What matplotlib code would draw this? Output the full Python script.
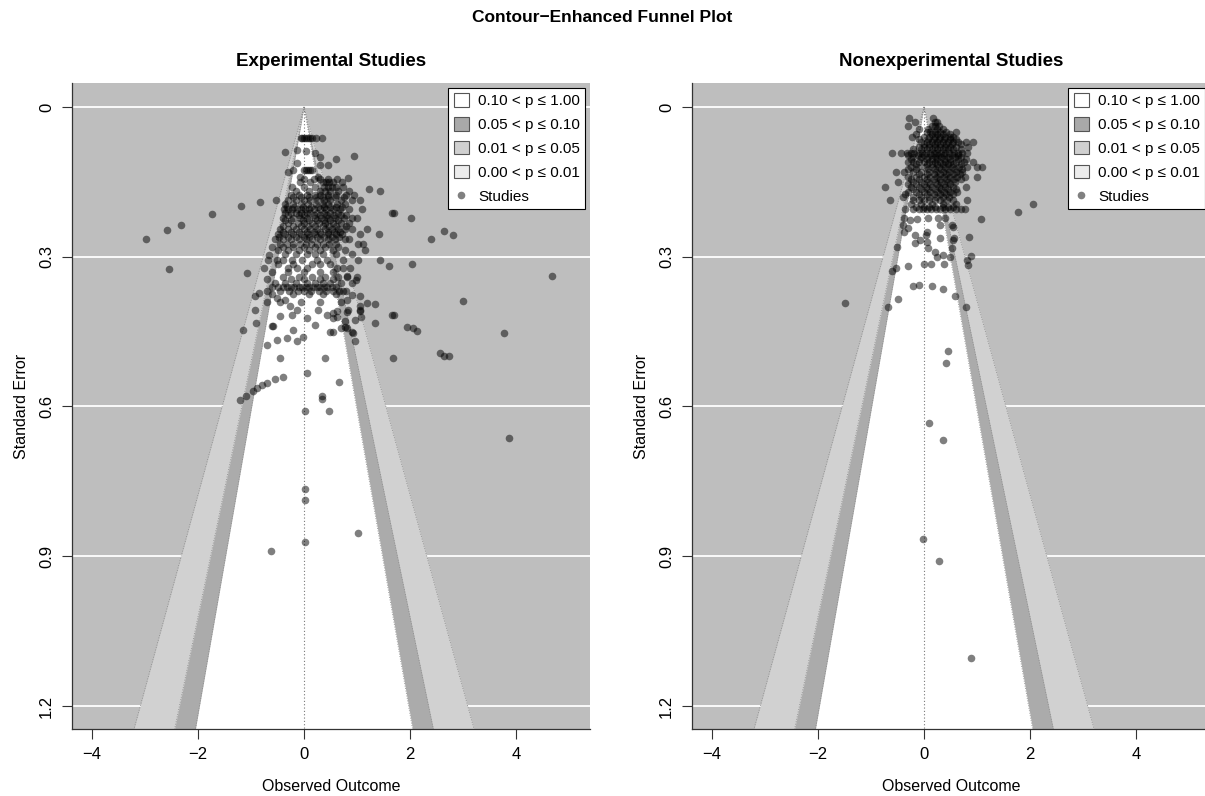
import numpy as np
import matplotlib
matplotlib.use("Agg")
import matplotlib.pyplot as plt
from matplotlib.patches import Patch
from matplotlib.lines import Line2D

plt.rcParams["font.family"] = ["Liberation Sans", "DejaVu Sans"]

# ---- data (x = observed outcome, se = standard error) ----
# dense horizontal bands: (se, [x values])
exp_rows = [
    (0.062, [-0.06, -0.03, 0.0, 0.03, 0.07, 0.11, 0.15, 0.22, 0.34]),
    (0.126, [-0.2, 0.0, 0.04, 0.08, 0.12, 0.16]),
    (0.145, [0.0, 0.18, 0.3, 0.46, 0.62]),
    (0.15, [-0.08, 0.11, 0.36, 0.42, 0.48, 0.55, 0.72]),
    (0.16, [-0.23, 0.0, 0.2, 0.38, 0.45, 0.52, 0.6, 0.74]),
    (0.168, [-0.15, 0.1, 0.3, 0.4, 0.5, 0.65, 0.85, 1.43]),
    (0.176, [-0.25, -0.1, 0.05, 0.2, 0.3, 0.45, 0.6, 0.8, 0.95]),
    (0.181, [-0.2, -0.05, 0.1, 0.22, 0.35, 0.45, 0.58, 0.75]),
    (0.186, [-0.3, -0.15, 0.0, 0.12, 0.25, 0.38, 0.5, 0.7, 0.9, 1.05]),
    (0.195, [-0.35, -0.2, -0.05, 0.08, 0.22, 0.35, 0.45, 0.62, 0.78]),
    (0.2, [-0.33, -0.18, -0.02, 0.14, 0.26, 0.38, 0.5, 0.6, 0.72]),
    (0.205, [-0.38, -0.3, -0.22, -0.14, -0.06, 0.02, 0.1, 0.18, 0.3, 0.42, 0.55, 0.68, 0.85, 1.1]),
    (0.212, [-0.35, -0.25, -0.15, -0.05, 0.05, 0.12, 0.25, 0.38, 0.5, 0.64, 1.66, 1.7]),
    (0.217, [-0.3, -0.1, 0.0, 0.18, 0.3, 0.44, 0.56, 0.7, 0.8]),
    (0.222, [-0.4, -0.2, -0.08, 0.06, 0.2, 0.32, 0.45, 0.58, 0.75, 0.9, 1.0, 2.02]),
    (0.227, [-0.35, -0.25, -0.02, 0.1, 0.25, 0.38, 0.5, 0.64]),
    (0.232, [-0.3, -0.12, 0.0, 0.15, 0.28, 0.4, 0.55, 0.7, 0.85]),
    (0.238, [-0.4, -0.2, -0.05, 0.08, 0.2, 0.35, 0.48, 0.6, 0.8]),
    (0.245, [-0.45, -0.3, -0.15, 0.0, 0.12, 0.25, 0.4, 0.52, 0.65, 0.77, 0.9, 1.19]),
    (0.25, [-0.4, -0.25, -0.1, 0.05, 0.18, 0.3, 0.45, 0.56, 0.68]),
    (0.255, [-0.5, -0.35, -0.2, -0.05, 0.08, 0.2, 0.33, 0.46, 0.6, 0.72, 1.06, 1.42]),
    (0.26, [-0.48, -0.3, -0.15, 0.0, 0.1, 0.24, 0.38, 0.52, 0.66]),
    (0.265, [-0.55, -0.4, -0.25, -0.1, 0.03, 0.15, 0.3, 0.45, 0.58, 0.77, 0.85]),
    (0.274, [-0.45, -0.32, -0.2, -0.08, 0.04, 0.14, 0.25, 0.35, 0.48, 0.6, 1.02, 1.11]),
    (0.28, [-0.6, -0.4, -0.2, 0.0, 0.2, 0.4, 0.65]),
    (0.286, [-0.5, -0.3, -0.1, 0.1, 0.3, 0.55, 0.77, 1.15]),
    (0.295, [-0.35, -0.15, 0.05, 0.2, 0.35, 0.6, 0.9]),
    (0.306, [-0.68, -0.51, -0.4, -0.23, -0.04, 0.24, 0.43, 0.74, 1.02, 1.43]),
    (0.315, [-0.5, -0.2, 0.15, 0.3, 0.5]),
    (0.322, [-0.75, -0.3, -0.13, 0.05, 0.62, 0.74, 0.87]),
    (0.33, [-0.6, -0.3, 0.0, 0.3, 0.55]),
    (0.34, [-0.4, -0.1, 0.15, 0.4, 0.65, 0.81, 1.0]),
    (0.345, [-0.7, -0.25, 0.0, 0.3, 0.55]),
    (0.352, [-0.55, -0.35, -0.15, 0.05, 0.2, 0.35, 0.5, 0.7, 0.9]),
    (0.36, [-0.6, -0.5, -0.4, -0.32, -0.25, -0.18, -0.1, -0.03, 0.04, 0.1,
            0.17, 0.24, 0.3, 0.37, 0.44, 0.52, 0.6]),
    (0.368, [-0.7, -0.45, -0.28, -0.12, 0.0, 0.14, 0.28, 0.42, 0.55, 0.66, 0.74, 0.8]),
    (0.375, [-0.6, -0.2, 0.1, 0.35, 0.6]),
    (0.39, [-0.7, -0.45, -0.05, 0.3, 0.7]),
]

# scattered experimental studies: (x, se)
exp_pts = [
    (-0.36, 0.09), (-0.13, 0.086), (0.04, 0.088), (0.21, 0.092), (0.3, 0.1),
    (0.6, 0.104), (0.94, 0.098), (0.45, 0.116), (0.3, 0.116), (-0.13, 0.112),
    (-0.3, 0.13), (0.26, 0.14), (-0.08, 0.14), (0.83, 0.142), (1.23, 0.164),
    (-2.98, 0.264), (-2.58, 0.246), (-2.32, 0.236), (-1.74, 0.214), (-1.19, 0.198),
    (-0.83, 0.19), (-0.53, 0.186), (-2.55, 0.324), (-1.08, 0.332), (-0.66, 0.296),
    (2.4, 0.264), (2.64, 0.248), (2.81, 0.256), (1.6, 0.318), (2.04, 0.314),
    (0.98, 0.346), (3.0, 0.388), (4.68, 0.338), (3.77, 0.452), (3.87, 0.664),
    (1.66, 0.416), (1.7, 0.416), (1.34, 0.432), (1.94, 0.44), (2.06, 0.442),
    (2.13, 0.448), (1.68, 0.502), (2.57, 0.492), (2.64, 0.498), (2.74, 0.498),
    (0.81, 0.338), (0.9, 0.376), (0.81, 0.386), (1.06, 0.378), (1.19, 0.392),
    (1.34, 0.394), (1.06, 0.398), (0.83, 0.406), (1.06, 0.408), (0.96, 0.426),
    (1.08, 0.42), (0.92, 0.452), (0.96, 0.468), (0.9, 0.45), (0.49, 0.45),
    (0.55, 0.45), (0.7, 0.442), (0.77, 0.44), (0.77, 0.428), (0.55, 0.412),
    (0.62, 0.42), (0.81, 0.41), (1.06, 0.406),
    (-0.92, 0.378), (-0.85, 0.372), (-0.51, 0.382), (-0.36, 0.386), (-0.26, 0.398),
    (-0.13, 0.406), (-0.23, 0.416), (0.05, 0.422), (-0.45, 0.418), (-0.6, 0.438),
    (-0.92, 0.406), (-0.9, 0.432), (-1.15, 0.446), (0.26, 0.406), (0.43, 0.416),
    (0.55, 0.422), (0.62, 0.408), (0.81, 0.442), (0.21, 0.436), (-0.21, 0.446),
    (-0.32, 0.462), (-0.51, 0.466), (-0.58, 0.438), (-0.7, 0.476), (-0.13, 0.468),
    (-0.02, 0.46), (-0.45, 0.502), (0.4, 0.502), (0.06, 0.532), (0.66, 0.55),
    (-0.4, 0.54), (-0.55, 0.544), (-0.7, 0.552), (-0.79, 0.556), (-0.89, 0.562),
    (-0.96, 0.568), (-1.09, 0.578), (-1.21, 0.586), (0.34, 0.578), (0.34, 0.584),
    (0.47, 0.61), (0.02, 0.61), (0.02, 0.766), (0.02, 0.788), (0.02, 0.872),
    (1.02, 0.854), (-0.62, 0.89),
]

non_rows = [
    (0.022, [-0.28, 0.17]),
    (0.03, [-0.17, 0.2, 0.24]),
    (0.038, [-0.3, 0.15, 0.21, 0.28]),
    (0.045, [-0.1, 0.08, 0.25, 0.35]),
    (0.05, [0.05, 0.11, 0.2, 0.3, 0.42, 0.6]),
    (0.055, [-0.15, 0.15, 0.25, 0.35, 0.5]),
    (0.06, [-0.23, 0.0, 0.1, 0.2, 0.3, 0.4, 0.49, 0.55]),
    (0.065, [-0.1, 0.08, 0.18, 0.28, 0.38, 0.5, 0.6]),
    (0.07, [-0.05, 0.05, 0.15, 0.25, 0.35, 0.45, 0.55, 0.64, 0.79, 0.92]),
    (0.075, [0.0, 0.1, 0.2, 0.3, 0.42, 0.52, 0.7]),
    (0.08, [-0.1, 0.0, 0.1, 0.2, 0.3, 0.4, 0.5, 0.6, 0.83]),
    (0.085, [-0.2, -0.05, 0.05, 0.15, 0.25, 0.35, 0.45, 0.55, 0.7]),
    (0.092, [-0.6, -0.43, -0.32, -0.25, -0.18, -0.1, -0.03, 0.04, 0.11, 0.18,
             0.25, 0.32, 0.4, 0.48, 0.56, 0.64, 0.72, 0.81]),
    (0.097, [-0.3, -0.12, 0.0, 0.14, 0.27, 0.38, 0.52, 0.64]),
    (0.1, [-0.2, -0.05, 0.08, 0.2, 0.33, 0.45, 0.58, 0.7]),
    (0.105, [-0.25, -0.08, 0.05, 0.15, 0.25, 0.38, 0.5, 0.65, 0.8]),
    (0.11, [-0.3, -0.2, -0.1, 0.0, 0.1, 0.2, 0.3, 0.4, 0.5, 0.6, 0.75, 0.92]),
    (0.115, [-0.15, 0.05, 0.15, 0.25, 0.35, 0.45, 0.55, 0.7]),
    (0.12, [-0.25, -0.12, 0.02, 0.15, 0.28, 0.4, 0.52, 0.66, 0.81, 1.0, 1.09]),
    (0.125, [-0.3, -0.15, 0.08, 0.2, 0.33, 0.45, 0.58, 0.72]),
    (0.13, [-0.53, -0.38, -0.2, -0.05, 0.1, 0.22, 0.35, 0.48, 0.6, 0.72]),
    (0.135, [-0.1, 0.05, 0.18, 0.3, 0.42, 0.55, 0.68]),
    (0.14, [-0.3, -0.15, 0.0, 0.12, 0.25, 0.38, 0.5, 0.63, 0.78, 1.0]),
    (0.145, [-0.25, -0.1, 0.05, 0.18, 0.3, 0.43, 0.56, 0.7]),
    (0.15, [-0.49, -0.2, -0.05, 0.08, 0.2, 0.33, 0.45, 0.58]),
    (0.155, [-0.3, -0.15, 0.0, 0.12, 0.25, 0.38, 0.5]),
    (0.16, [-0.74, -0.25, -0.1, 0.03, 0.15, 0.28, 0.4, 0.55, 0.79]),
    (0.165, [-0.2, -0.05, 0.08, 0.2, 0.33, 0.45, 0.6]),
    (0.17, [-0.3, -0.15, 0.0, 0.12, 0.25, 0.38, 0.5, 0.62]),
    (0.175, [-0.35, -0.1, 0.05, 0.18, 0.3, 0.42, 0.55]),
    (0.18, [-0.4, -0.2, -0.05, 0.1, 0.22, 0.35, 0.48]),
    (0.186, [-0.64, -0.2, -0.1, 0.0, 0.1, 0.2, 0.3, 0.43, 0.55, 0.81]),
    (0.195, [-0.25, -0.05, 0.15, 0.35, 0.6, 2.06]),
    (0.2, [-0.15, 0.0, 0.1, 0.2, 0.35, 0.45, 0.55]),
    (0.205, [-0.36, -0.2, -0.1, -0.02, 0.06, 0.14, 0.22, 0.3, 0.4, 0.5, 0.6, 0.7, 0.77]),
    (0.21, [1.77]),
]

non_pts = [
    (1.08, 0.224), (0.85, 0.26), (0.89, 0.298), (0.81, 0.306), (0.83, 0.316),
    (-0.51, 0.28), (-0.6, 0.328), (-0.53, 0.322), (-0.68, 0.4), (-0.49, 0.384),
    (-0.3, 0.318), (-0.21, 0.358), (-0.09, 0.356), (0.15, 0.358), (0.36, 0.364),
    (0.58, 0.378), (0.79, 0.4), (0.0, 0.314), (0.13, 0.314), (0.38, 0.314),
    (0.49, 0.3), (0.36, 0.296), (0.25, 0.3), (0.21, 0.29), (0.3, 0.262),
    (0.53, 0.282), (0.55, 0.266), (0.55, 0.24), (0.08, 0.282), (0.06, 0.27),
    (-0.08, 0.266), (-0.17, 0.272), (-0.17, 0.256), (0.04, 0.256), (0.06, 0.25),
    (0.3, 0.236), (0.26, 0.222), (0.4, 0.222), (0.08, 0.222), (-0.13, 0.224),
    (-0.26, 0.226), (-0.38, 0.222), (-0.4, 0.236), (-0.3, 0.242), (-0.38, 0.25),
    (0.57, 0.262), (0.53, 0.236), (-1.49, 0.392), (0.45, 0.488), (0.42, 0.512),
    (0.09, 0.634), (0.36, 0.668), (-0.02, 0.866), (0.28, 0.91), (0.89, 1.104),
]

panel_titles = ["Experimental Studies", "Nonexperimental Studies"]
legend_labels = ["0.10 < p \u2264 1.00", "0.05 < p \u2264 0.10",
                 "0.01 < p \u2264 0.05", "0.00 < p \u2264 0.01", "Studies"]
x_ticks = [-4, -2, 0, 2, 4]
y_ticks = [0, 0.3, 0.6, 0.9, 1.2]

# ---- styling ----
BACK = "#bebebe"
SHADES = ["#ffffff", "#ababab", "#d1d1d1"]   # p>0.10, 0.05-0.10, 0.01-0.05
LEG_FILL = ["#ffffff", "#a9a9a9", "#d0d0d0", "#ececec"]
XLIM = (-4.38, 5.4)
YLIM = (1.246, -0.048)


def to_xy(rows, pts):
    xs, ses = [], []
    for se, xv in rows:
        xs.extend(xv)
        ses.extend([se] * len(xv))
    for x, se in pts:
        xs.append(x)
        ses.append(se)
    return np.array(xs), np.array(ses)


def funnel_panel(ax, x, se, title):
    ax.set_facecolor(BACK)
    for t in y_ticks:
        ax.axhline(t, color="white", lw=1.3, zorder=0.5)

    # contour regions (z = 2.576, 1.96, 1.645)
    s = np.array([0.0, YLIM[0]])
    for z, col in zip([2.576, 1.96, 1.645], [SHADES[2], SHADES[1], SHADES[0]]):
        ax.fill_betweenx(s, -z * s, z * s, color=col, lw=0, zorder=1)
    for z in [2.576, 1.96, 1.645]:
        ax.plot(-z * s, s, color="#888888", ls=(0, (1, 2)), lw=0.6, zorder=1.5)
        ax.plot(z * s, s, color="#888888", ls=(0, (1, 2)), lw=0.6, zorder=1.5)
    ax.plot([0, 0], s, color="#777777", ls=(0, (1, 2)), lw=0.8, zorder=1.6)

    ax.scatter(x, se, s=30, c="black", alpha=0.5, lw=0, zorder=3)

    ax.set_xlim(*XLIM)
    ax.set_ylim(*YLIM)
    ax.set_xticks(x_ticks)
    ax.set_xticklabels(["\u22124", "\u22122", "0", "2", "4"])
    ax.set_yticks(y_ticks)
    ax.set_yticklabels(["0", "0.3", "0.6", "0.9", "1.2"], rotation=90, va="center")
    ax.tick_params(direction="out", length=7, width=0.8, color="#333333",
                   labelsize=12, pad=6)
    for side in ["top", "right"]:
        ax.spines[side].set_visible(False)
    for side in ["left", "bottom"]:
        ax.spines[side].set_color("#333333")
        ax.spines[side].set_linewidth(0.9)
    ax.set_xlabel("Observed Outcome", fontsize=11.5, labelpad=12)
    ax.set_ylabel("Standard Error", fontsize=11.5, labelpad=7)
    ax.set_title(title, fontsize=13.5, fontweight="bold", pad=12)

    handles = [Patch(facecolor=c, edgecolor="#555555", lw=0.8) for c in LEG_FILL]
    handles.append(Line2D([], [], ls="none", marker="o", markersize=5.5,
                          markerfacecolor="#808080", markeredgecolor="none"))
    leg = ax.legend(handles, legend_labels, loc="upper right", fontsize=11,
                    frameon=True, fancybox=False, edgecolor="black",
                    facecolor="white", framealpha=1.0,
                    borderaxespad=0.3, handlelength=1.0, handleheight=1.0,
                    handletextpad=0.6, labelspacing=0.58, borderpad=0.35)
    leg.get_frame().set_linewidth(0.8)
    leg.set_zorder(5)


fig = plt.figure(figsize=(12.05, 7.96), dpi=100)
W, H = 1205.0, 796.0
ax1 = fig.add_axes([72 / W, 1 - 729 / H, 518 / W, 646 / H])
ax2 = fig.add_axes([692 / W, 1 - 729 / H, 518 / W, 646 / H])

ex, es = to_xy(exp_rows, exp_pts)
nx, ns = to_xy(non_rows, non_pts)
funnel_panel(ax1, ex, es, panel_titles[0])
funnel_panel(ax2, nx, ns, panel_titles[1])

fig.text(0.5, 1 - 18 / H, "Contour\u2212Enhanced Funnel Plot", ha="center",
         va="center", fontsize=12.5, fontweight="bold")

fig.savefig("out.png", dpi=100)
